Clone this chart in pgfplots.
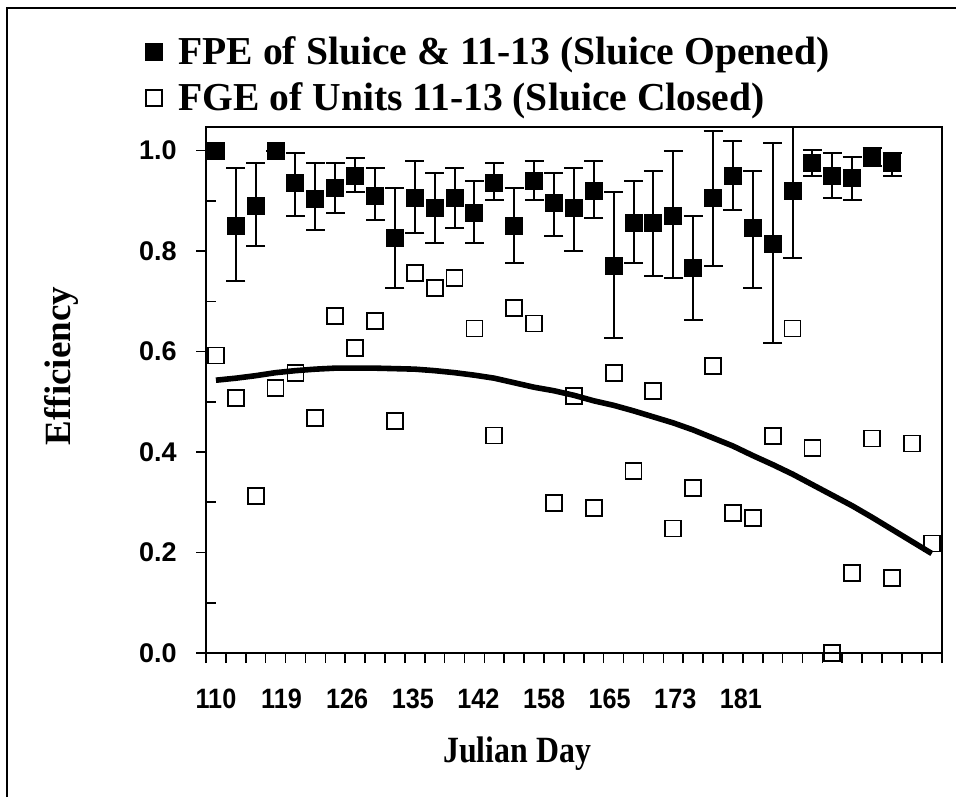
\documentclass[border=0pt]{standalone}
\usepackage{fontspec}
\usepackage{pgfplots}
\usepackage{pgfplotstable}
\pgfplotsset{compat=1.18}
\setmainfont{Liberation Serif}
\newfontfamily\sansf{Liberation Sans}
\newcommand\xl[1]{\scalebox{0.9}[1]{#1}}

\pgfplotstableread{
x y ep em
0 1.000 0 0
1 0.850 0.115 0.109
2 0.890 0.085 0.080
3 1.000 0 0
4 0.935 0.060 0.065
5 0.904 0.071 0.063
6 0.925 0.050 0.050
7 0.950 0.035 0.033
8 0.910 0.055 0.049
9 0.826 0.100 0.100
10 0.905 0.075 0.069
11 0.885 0.071 0.069
12 0.905 0.060 0.060
13 0.875 0.065 0.059
14 0.935 0.040 0.034
15 0.850 0.076 0.074
16 0.940 0.040 0.039
17 0.895 0.060 0.064
18 0.885 0.080 0.084
19 0.920 0.060 0.055
20 0.770 0.147 0.143
21 0.855 0.085 0.079
22 0.855 0.105 0.104
23 0.870 0.130 0.124
24 0.766 0.104 0.104
25 0.905 0.135 0.134
26 0.950 0.069 0.069
27 0.845 0.115 0.119
28 0.815 0.200 0.198
29 0.920 0.140 0.134
30 0.976 0.025 0.026
31 0.950 0.045 0.045
32 0.945 0.043 0.044
33 0.987 0.018 0.018
34 0.976 0.020 0.026
}\fpe

\pgfplotstableread{
x y
0 0.592
1 0.507
2 0.313
3 0.527
4 0.557
5 0.467
6 0.671
7 0.607
8 0.661
9 0.462
10 0.756
11 0.726
12 0.746
13 0.646
14 0.433
15 0.686
16 0.656
17 0.298
18 0.512
19 0.288
20 0.557
21 0.363
22 0.522
23 0.248
24 0.328
25 0.572
26 0.278
27 0.268
28 0.432
29 0.646
30 0.408
31 0.000
32 0.159
33 0.427
34 0.149
35 0.417
36 0.218
}\fge

\pgfplotstableread{
x y
0 0.543
1 0.547
2 0.552
3 0.558
4 0.562
5 0.565
6 0.567
7 0.567
8 0.567
9 0.566
10 0.565
11 0.562
12 0.558
13 0.553
14 0.547
15 0.538
16 0.529
17 0.522
18 0.513
19 0.502
20 0.493
21 0.482
22 0.470
23 0.458
24 0.444
25 0.428
26 0.412
27 0.393
28 0.375
29 0.356
30 0.335
31 0.314
32 0.293
33 0.270
34 0.246
35 0.222
36 0.198
}\trend

\begin{document}
\begin{tikzpicture}
\useasboundingbox (0,0) rectangle (478pt,398.5pt);
\draw[line width=1.2pt] (3.5pt,0pt) -- (3.5pt,394.5pt) -- (478pt,394.5pt);
\begin{axis}[
  at={(103pt,72pt)}, anchor=south west, scale only axis,
  width=367.85pt, height=263pt,
  xmin=-0.5, xmax=36.5, ymin=0, ymax=1.047,
  axis line style={line width=1pt},
  xtick={0,3.3,6.6,9.9,13.2,16.5,19.8,23.1,26.4},
  xticklabels={\xl{110},\xl{119},\xl{126},\xl{135},\xl{142},\xl{158},\xl{165},\xl{173},\xl{181}},
  minor xtick={-0.5,0.5,1.5,2.5,3.5,4.5,5.5,6.5,7.5,8.5,9.5,10.5,11.5,12.5,13.5,14.5,15.5,16.5,17.5,18.5,19.5,20.5,21.5,22.5,23.5,24.5,25.5,26.5,27.5,28.5,29.5,30.5,31.5,32.5,33.5,34.5,35.5,36.5},
  ytick={0,0.2,0.4,0.6,0.8,1.0},
  yticklabels={0.0,0.2,0.4,0.6,0.8,1.0},
  minor ytick={0.1,0.3,0.5,0.7,0.9},
  xtick pos=bottom, ytick pos=left,
  tick align=outside, major tick length=5pt, minor tick length=5pt,
  tick style={line width=0.8pt, black},
  major x tick style={draw=none},
  minor y tick style={xshift=5pt},
  yticklabel style={font=\sansf\bfseries\fontsize{13.5}{15}\selectfont, anchor=east, inner sep=0pt, xshift=-9.5pt},
  xticklabel style={font=\sansf\bfseries\fontsize{14}{15}\selectfont, anchor=north, inner sep=0pt, yshift=-13pt},
  ylabel={Efficiency},
  ylabel style={font=\bfseries\fontsize{18.5}{20}\selectfont, at={(axis description cs:-0.196,0.5456)}, anchor=center},
  xlabel={\scalebox{0.86}[1]{Julian Day}},
  xlabel style={font=\bfseries\fontsize{18.5}{20}\selectfont, at={(axis description cs:0.423,-0.192)}, anchor=center},
  legend style={at={(axis description cs:-0.0829,1.18)}, anchor=north west, draw=none, fill=none, inner sep=0pt,
    font=\bfseries\fontsize{19.8}{22}\selectfont, row sep=3.5pt,
    /tikz/every odd column/.append style={column sep=6pt}},
  legend cell align=left,
  legend image code/.code={\draw[#1] plot coordinates {(4pt,0pt)};},
]
\addplot[black, line width=2.8pt, forget plot] table[x=x,y=y] {\trend};
\addplot[only marks, mark=square*, mark size=4.25pt, mark options={black, fill=black, line width=0pt},
  error bars/.cd, y dir=both, y explicit,
  error bar style={line width=1pt, black},
  error mark options={rotate=90, mark size=4.75pt, line width=1pt, black}]
  table[x=x, y=y, y error plus=ep, y error minus=em] {\fpe};
\addlegendentry{FPE of Sluice \& 11-13 (Sluice Opened)}
\addplot[only marks, mark=square, mark size=4pt, mark options={black, line width=0.9pt}]
  table[x=x,y=y] {\fge};
\addlegendentry{FGE of Units 11-13 (Sluice Closed)}
\end{axis}
\end{tikzpicture}
\end{document}
